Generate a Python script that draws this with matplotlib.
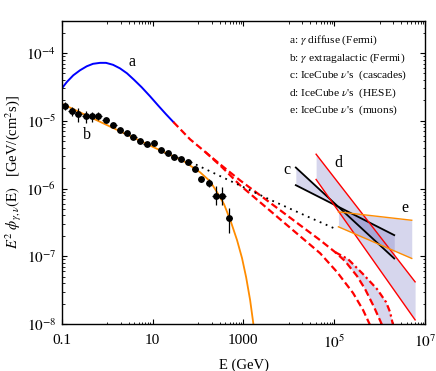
import numpy as np
import matplotlib
matplotlib.use("Agg")
import matplotlib.pyplot as plt
from matplotlib.ticker import FixedLocator, FixedFormatter, NullFormatter

plt.rcParams['font.family'] = ['Liberation Serif', 'DejaVu Serif']
plt.rcParams['mathtext.fontset'] = 'stix'

# ---------------- data ----------------
# a: gamma diffuse (Fermi) - blue
a_E = [0.100, 0.131, 0.180, 0.253, 0.356, 0.489, 0.698, 0.946, 1.35, 1.92, 2.74,
       3.91, 5.78, 8.81, 13.2, 19.8, 28.7]
a_F = [2.99e-5, 3.76e-5, 4.69e-5, 5.56e-5, 6.37e-5, 6.93e-5, 7.16e-5, 7.16e-5,
       6.70e-5, 5.94e-5, 5.02e-5, 4.03e-5, 3.12e-5, 2.30e-5, 1.69e-5, 1.25e-5, 9.6e-6]

# red dashed extrapolations
red_mid_E = [28.7, 67.0, 143, 307, 845, 2330, 6430, 1.77e4, 4.89e4, 1.05e5, 1.74e5,
             3.19e5, 4.80e5, 7.57e5, 1.14e6, 1.26e6]
red_mid_F = [9.6e-6, 5.33e-6, 3.49e-6, 2.28e-6, 1.32e-6, 7.96e-7, 4.79e-7, 2.88e-7,
             1.73e-7, 1.15e-7, 8.47e-8, 5.09e-8, 3.27e-8, 1.77e-8, 9.6e-9, 7.9e-9]
red_right_E = [1.05e5, 2.02e5, 4.34e5, 8.81e5, 1.39e6, 1.70e6, 1.98e6, 2.08e6]
red_right_F = [1.15e-7, 9.06e-8, 5.44e-8, 3.27e-8, 2.10e-8, 1.50e-8, 9.6e-9, 7.9e-9]
red_low_E = [143, 340, 845, 2330, 6430, 1.77e4, 4.89e4, 1.16e5, 2.61e5, 4.34e5,
             6.18e5, 6.84e5]
red_low_F = [3.49e-6, 2.06e-6, 1.12e-6, 6.28e-7, 3.52e-7, 1.98e-7, 1.11e-7, 5.83e-8,
             2.86e-8, 1.60e-8, 9.6e-9, 7.9e-9]

# b: gamma extragalactic (Fermi) model - orange, and its power-law extension (dotted)
b_E = [0.100, 0.698, 5.31, 14.6, 47.0, 111, 185, 264, 376, 536, 726, 935, 1150,
       1410, 1640, 1810]
b_F = [1.79e-5, 9.66e-6, 5.07e-6, 3.67e-6, 2.57e-6, 1.74e-6, 1.28e-6, 8.81e-7,
       5.86e-7, 3.18e-7, 1.73e-7, 9.38e-8, 4.92e-8, 2.25e-8, 1.07e-8, 6.2e-9]
bpl_E = [67.0, 509, 3870, 2.94e4, 9.95e4]
bpl_F = [2.48e-6, 1.30e-6, 6.84e-7, 3.71e-7, 2.59e-7]

# Fermi EGB data points
pts_E = [0.118, 0.166, 0.232, 0.338, 0.458, 0.640, 0.931, 1.37, 1.92, 2.70, 3.78,
         5.31, 7.45, 10.8, 15.4, 21.6, 30.2, 42.5, 61.5, 86.3, 117, 175, 247, 344, 484]
pts_F = [1.64e-5, 1.40e-5, 1.25e-5, 1.16e-5, 1.16e-5, 1.18e-5, 1.02e-5, 8.67e-6,
         7.41e-6, 6.70e-6, 5.77e-6, 4.99e-6, 4.61e-6, 4.71e-6, 3.67e-6, 3.35e-6,
         2.92e-6, 2.77e-6, 2.44e-6, 1.97e-6, 1.36e-6, 1.21e-6, 7.78e-7, 7.78e-7, 3.61e-7]
pts_rel_lo = [0.13, 0.17, 0.23, 0.21, 0.18, 0.14, 0.05, 0.05, 0.05, 0.05, 0.05, 0.05,
              0.05, 0.05, 0.05, 0.05, 0.05, 0.05, 0.05, 0.05, 0.08, 0.13, 0.27, 0.27, 0.39]
pts_rel_hi = [0.16, 0.15, 0.23, 0.20, 0.16, 0.13, 0.05, 0.05, 0.05, 0.05, 0.05, 0.05,
              0.05, 0.05, 0.05, 0.05, 0.05, 0.05, 0.05, 0.05, 0.09, 0.15, 0.39, 0.34, 0.42]
bin_halfwidth_dex = 0.074

# IceCube bands (E range, upper/lower line end values)
c_E = [1.43e4, 2.1e6]
c_F1 = [2.04e-6, 9.27e-8]
c_F2 = [1.12e-6, 2.05e-7]
d_E = [4.0e4, 6.05e6]
d_F1 = [3.21e-6, 4.19e-8]
d_F2 = [1.36e-6, 1.15e-8]
e_E = [1.24e5, 5.1e6]
e_F1 = [4.52e-7, 3.40e-7]
e_F2 = [2.72e-7, 9.29e-8]

legend_lines = [r"a: $\gamma$ diffuse (Fermi)",
                r"b: $\gamma$ extragalactic (Fermi)",
                r"c: IceCube $\nu$'s  (cascades)",
                r"d: IceCube $\nu$'s  (HESE)",
                r"e: IceCube $\nu$'s  (muons)"]
curve_labels = ["a", "b", "c", "d", "e"]
curve_label_E = [3.48, 0.356, 9.0e3, 1.24e5, 3.65e6]
curve_label_F = [7.36e-5, 6.1e-6, 1.86e-6, 2.34e-6, 5.07e-7]

xticks = [0.1, 10, 1000, 1e5, 1e7]
xticklabels = ["0.1", "10", "1000", r"$10^5$", r"$10^7$"]
yticks = [1e-8, 1e-7, 1e-6, 1e-5, 1e-4]
yticklabels = [r"$10^{-8}$", r"$10^{-7}$", r"$10^{-6}$", r"$10^{-5}$", r"$10^{-4}$"]

# ---------------- figure ----------------
fig = plt.figure(figsize=(4.36, 3.71), dpi=100)
ax = fig.add_axes([0.1415, 0.1267, 0.8333, 0.8175])
ax.set_xscale('log')
ax.set_yscale('log')

band_col = (0.50, 0.50, 0.78)
band_alpha = 0.32

# bands
ax.fill_between(c_E, c_F1, c_F2, color=band_col, alpha=band_alpha, lw=0)
ax.fill_between(d_E, d_F1, d_F2, color=band_col, alpha=band_alpha, lw=0)
ax.fill_between(e_E, e_F1, e_F2, color=band_col, alpha=band_alpha, lw=0)
ax.fill(np.concatenate([red_mid_E[9:], red_right_E[::-1]]),
        np.concatenate([red_mid_F[9:], red_right_F[::-1]]),
        color=band_col, alpha=band_alpha, lw=0)

ax.plot(c_E, c_F1, color='black', lw=1.3)
ax.plot(c_E, c_F2, color='black', lw=1.3)
ax.plot(d_E, d_F1, color='red', lw=1.0)
ax.plot(d_E, d_F2, color='red', lw=1.0)
ax.plot(e_E, e_F1, color='#ff8c00', lw=1.0)
ax.plot(e_E, e_F2, color='#ff8c00', lw=1.0)

# curves
ax.plot(a_E, a_F, color='#0000ff', lw=1.4)
ax.plot(red_mid_E, red_mid_F, color='red', lw=1.6, ls=(0, (3.2, 1.6)))
ax.plot(red_right_E, red_right_F, color='red', lw=1.6, ls=(0, (3, 1.4, 1, 1.4)))
ax.plot(red_low_E, red_low_F, color='red', lw=1.6, ls=(0, (3.2, 1.6)))
ax.plot(bpl_E, bpl_F, color='black', lw=1.3, ls=(0, (1, 2.6)))
ax.plot(b_E, b_F, color='#ff8c00', lw=1.3)

pE = np.array(pts_E)
pF = np.array(pts_F)
yerr = [pF * np.array(pts_rel_lo), pF * np.array(pts_rel_hi)]
xerr = [pE * (1 - 10 ** -bin_halfwidth_dex), pE * (10 ** bin_halfwidth_dex - 1)]
ax.errorbar(pE, pF, yerr=yerr, xerr=xerr, fmt='o', color='black', ms=3.9,
            elinewidth=0.9, capsize=0, zorder=5)

for lab, xe, yf in zip(curve_labels, curve_label_E, curve_label_F):
    ax.text(xe, yf, lab, fontsize=11.5, ha='center', va='center')

for i, t in enumerate(legend_lines):
    ax.text(0.6265, 0.934 - i * 0.0573, t, transform=ax.transAxes,
            fontsize=8.2, ha='left', va='center')

ax.set_xlim(0.1, 1e7)
ax.set_ylim(1e-8, 3e-4)

ax.xaxis.set_major_locator(FixedLocator(xticks))
ax.xaxis.set_major_formatter(FixedFormatter(xticklabels))
ax.xaxis.set_minor_locator(FixedLocator([m * 10.0 ** k for k in (0, 2, 4, 6)
                                         for m in range(1, 10)]))
ax.xaxis.set_minor_formatter(NullFormatter())
ax.yaxis.set_major_locator(FixedLocator(yticks))
ax.yaxis.set_major_formatter(FixedFormatter(yticklabels))
ax.yaxis.set_minor_locator(FixedLocator([m * 10.0 ** k for k in range(-8, -3)
                                         for m in range(2, 10)]))
ax.yaxis.set_minor_formatter(NullFormatter())

ax.tick_params(which='both', direction='in', top=True, right=True, labelsize=11)
ax.tick_params(which='major', length=3.5, width=0.8)
ax.tick_params(which='minor', length=1.8, width=0.6)
ax.tick_params(axis='x', which='major', pad=7)
ax.tick_params(axis='y', which='major', pad=4)
for s in ax.spines.values():
    s.set_linewidth(1.0)

ax.set_xlabel("E (GeV)", fontsize=10.5)
ax.set_ylabel(r"$E^2\ \phi_{\gamma,\nu}(\mathrm{E})$   [GeV/(cm$^2$s)]", fontsize=10.5)
ax.yaxis.set_label_coords(-0.103, 0.5)
ax.xaxis.set_label_coords(0.502, -0.115)

fig.savefig("out.png", dpi=100)
